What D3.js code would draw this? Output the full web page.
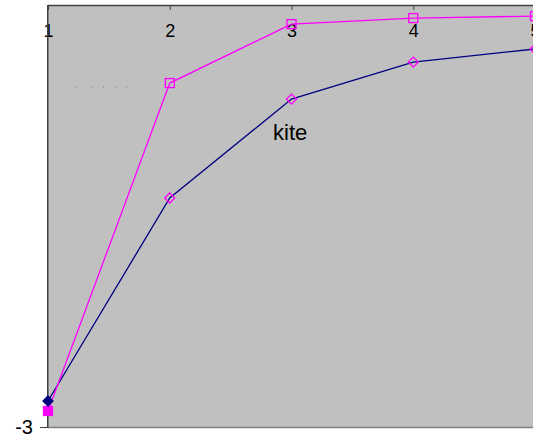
<!DOCTYPE html>
<html><head><meta charset="utf-8">
<script src="https://cdn.jsdelivr.net/npm/d3@7"></script>
<style>body{margin:0;background:#fff}svg{display:block}</style>
</head><body>
<script>
const categories = [1, 2, 3, 4, 5];
const seriesPink = [-2.886, -0.555, -0.136, -0.093, -0.079];
const seriesBlue = [-2.815, -1.372, -0.669, -0.406, -0.313];
const xTickLabels = ["1", "2", "3", "4", "5"];
const yTickLabels = ["-3"];
const yTickValues = [-3];
const annotation = "kite";

(function () {
const W = 533, H = 438;
const svg = d3.select("body").append("svg").attr("width", W).attr("height", H);
const pL = 48, pT = 5, pR = 535, pB = 427;
const x = d3.scaleLinear().domain([1, 5]).range([pL, pR]);
const y = d3.scaleLinear().domain([-3, 0]).range([pB, pT]);

svg.append("rect").attr("x", pL).attr("y", pT).attr("width", pR - pL + 10).attr("height", pB - pT).attr("fill", "#c0c0c0");
svg.append("line").attr("x1", pL).attr("x2", W).attr("y1", pB + 0.5).attr("y2", pB + 0.5).attr("stroke", "#808080").attr("stroke-width", 1.5);

const xAxis = d3.axisBottom(x).tickValues(categories).tickFormat((d, i) => xTickLabels[i]).tickSize(5).tickPadding(14);
const gx = svg.append("g").attr("transform", `translate(0,${pT})`).call(xAxis);
gx.select(".domain").attr("stroke", "#404040").attr("stroke-width", 1.5).attr("d", `M${pL},0.5H${W}`);
gx.selectAll(".tick line").attr("stroke", "#404040");
gx.selectAll(".tick text").attr("font-family", "Liberation Sans, Arial, sans-serif").attr("font-size", 18).attr("fill", "#000").attr("dy", "0.35em").attr("y", 26);

const yAxis = d3.axisLeft(y).tickValues(yTickValues).tickFormat((d, i) => yTickLabels[i]).tickSize(8).tickPadding(7);
const gy = svg.append("g").attr("transform", `translate(${pL},0)`).call(yAxis);
gy.select(".domain").attr("stroke", "#404040").attr("stroke-width", 1.5).attr("d", `M-0.25,${pT}V${pB + 1}`);
gy.selectAll(".tick line").attr("stroke", "#404040");
gy.selectAll(".tick text").attr("font-family", "Liberation Sans, Arial, sans-serif").attr("font-size", 20).attr("fill", "#000");

[76, 91, 103, 115, 126].forEach(px => svg.append("rect").attr("x", px).attr("y", 86.5).attr("width", 1).attr("height", 1).attr("fill", "#777"));

const line = d3.line().x((d, i) => x(categories[i])).y(d => y(d));
svg.append("path").datum(seriesBlue).attr("d", line).attr("fill", "none").attr("stroke", "#000080").attr("stroke-width", 1.3);
svg.append("path").datum(seriesPink).attr("d", line).attr("fill", "none").attr("stroke", "#ff00ff").attr("stroke-width", 1.3);

svg.selectAll(".sq").data(seriesPink).enter().append("rect")
  .attr("x", (d, i) => x(categories[i]) - 4.5).attr("y", d => y(d) - 4.5)
  .attr("width", 9).attr("height", 9)
  .attr("fill", (d, i) => i === 0 ? "#ff00ff" : "none")
  .attr("stroke", "#ff00ff").attr("stroke-width", 1.3);

const dsym = d3.symbol().type(d3.symbolSquare).size(50);
svg.selectAll(".dm").data(seriesBlue).enter().append("path")
  .attr("d", dsym)
  .attr("transform", (d, i) => `translate(${x(categories[i])},${y(d)}) rotate(45)`)
  .attr("fill", (d, i) => i === 0 ? "#000080" : "none")
  .attr("stroke", (d, i) => i === 0 ? "#000080" : "#ff00ff").attr("stroke-width", 1.3);

svg.append("text").attr("x", 273).attr("y", 140).text(annotation)
  .attr("font-family", "Liberation Sans, Arial, sans-serif").attr("font-size", 22).attr("fill", "#000");
})();
</script>
</body></html>
